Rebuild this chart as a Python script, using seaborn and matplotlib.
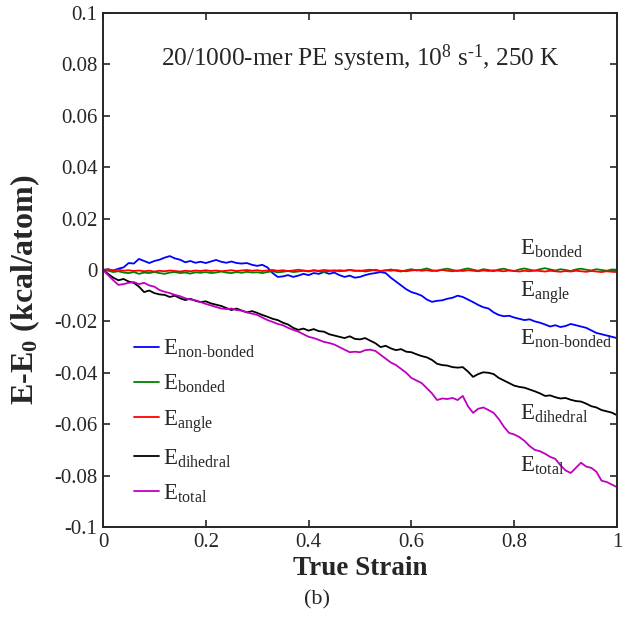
import numpy as np
import pandas as pd
import matplotlib
matplotlib.use("Agg")
import matplotlib.pyplot as plt
import seaborn as sns

# true strain, sampled every 0.01
strain = [round(i * 0.01, 2) for i in range(101)]

e_nonbonded = [
    0.0000, 0.0003, -0.0002, 0.0005, 0.0010, 0.0027, 0.0025, 0.0043, 0.0035, 0.0027,
    0.0035, 0.0040, 0.0048, 0.0054, 0.0045, 0.0040, 0.0030, 0.0035, 0.0028, 0.0032,
    0.0027, 0.0033, 0.0039, 0.0032, 0.0028, 0.0033, 0.0027, 0.0025, 0.0027, 0.0020,
    0.0016, 0.0020, 0.0010, -0.0012, -0.0027, -0.0025, -0.0020, -0.0027, -0.0022, -0.0015,
    -0.0020, -0.0012, -0.0015, -0.0008, -0.0015, -0.0010, -0.0020, -0.0027, -0.0022, -0.0030,
    -0.0027, -0.0020, -0.0015, -0.0012, -0.0008, -0.0012, -0.0030, -0.0045, -0.0060, -0.0075,
    -0.0086, -0.0092, -0.0100, -0.0115, -0.0124, -0.0120, -0.0118, -0.0112, -0.0108, -0.0100,
    -0.0105, -0.0115, -0.0125, -0.0136, -0.0145, -0.0150, -0.0165, -0.0175, -0.0180, -0.0178,
    -0.0185, -0.0190, -0.0195, -0.0192, -0.0200, -0.0205, -0.0212, -0.0220, -0.0215, -0.0222,
    -0.0218, -0.0210, -0.0215, -0.0220, -0.0225, -0.0235, -0.0245, -0.0250, -0.0255, -0.0260,
    -0.0265,
]

e_bonded = [
    0.0000, -0.0003, -0.0008, -0.0005, -0.0010, -0.0012, -0.0008, -0.0015, -0.0010, -0.0012,
    -0.0008, -0.0012, -0.0015, -0.0010, -0.0008, -0.0012, -0.0010, -0.0014, -0.0009, -0.0011,
    -0.0008, -0.0012, -0.0010, -0.0006, -0.0010, -0.0012, -0.0008, -0.0011, -0.0007, -0.0010,
    -0.0009, -0.0012, -0.0008, -0.0005, -0.0009, -0.0007, -0.0004, -0.0008, -0.0006, -0.0003,
    -0.0006, -0.0002, -0.0005, -0.0008, -0.0004, -0.0001, -0.0005, -0.0003, 0.0000, -0.0004,
    -0.0002, -0.0006, -0.0003, 0.0001, -0.0004, -0.0002, 0.0002, -0.0003, -0.0006, -0.0001,
    0.0003, -0.0002, 0.0001, 0.0006, -0.0001, -0.0004, 0.0002, 0.0005, 0.0000, -0.0004,
    0.0002, 0.0006, 0.0001, -0.0003, 0.0003, 0.0000, -0.0005, 0.0002, 0.0005, -0.0001,
    -0.0004, 0.0002, 0.0006, 0.0001, -0.0003, 0.0003, 0.0007, 0.0002, -0.0002, 0.0003,
    0.0000, -0.0004, 0.0002, 0.0005, 0.0001, -0.0002, 0.0003, 0.0000, -0.0003, 0.0002,
    0.0001,
]

e_angle = [
    0.0000, 0.0002, -0.0002, 0.0001, -0.0003, -0.0001, -0.0004, -0.0002, -0.0005, -0.0003,
    -0.0006, -0.0003, -0.0005, -0.0002, -0.0004, -0.0006, -0.0003, -0.0005, -0.0002, -0.0004,
    -0.0001, -0.0004, -0.0002, -0.0005, -0.0003, -0.0001, -0.0004, -0.0002, 0.0000, -0.0003,
    -0.0001, -0.0004, -0.0002, 0.0000, -0.0003, -0.0001, -0.0004, -0.0002, 0.0001, -0.0002,
    -0.0004, -0.0001, -0.0003, 0.0000, -0.0002, -0.0004, -0.0001, -0.0003, 0.0000, -0.0002,
    -0.0004, -0.0001, 0.0001, -0.0002, -0.0004, -0.0001, -0.0003, 0.0000, -0.0003, -0.0005,
    -0.0002, 0.0000, -0.0003, -0.0001, -0.0004, -0.0002, 0.0000, -0.0003, -0.0005, -0.0002,
    -0.0004, -0.0001, -0.0003, -0.0005, -0.0002, -0.0004, -0.0001, -0.0003, -0.0005, -0.0002,
    -0.0004, -0.0006, -0.0003, -0.0005, -0.0002, -0.0004, -0.0006, -0.0003, -0.0005, -0.0007,
    -0.0004, -0.0006, -0.0003, -0.0005, -0.0007, -0.0004, -0.0006, -0.0008, -0.0005, -0.0007,
    -0.0008,
]

e_dihedral = [
    0.0000, -0.0015, -0.0030, -0.0040, -0.0035, -0.0045, -0.0050, -0.0065, -0.0086, -0.0080,
    -0.0090, -0.0095, -0.0097, -0.0105, -0.0100, -0.0110, -0.0117, -0.0112, -0.0120, -0.0125,
    -0.0122, -0.0130, -0.0135, -0.0140, -0.0148, -0.0156, -0.0150, -0.0158, -0.0165, -0.0160,
    -0.0167, -0.0175, -0.0182, -0.0190, -0.0195, -0.0205, -0.0212, -0.0225, -0.0233, -0.0228,
    -0.0236, -0.0230, -0.0238, -0.0240, -0.0250, -0.0255, -0.0260, -0.0265, -0.0258, -0.0268,
    -0.0270, -0.0265, -0.0275, -0.0285, -0.0300, -0.0295, -0.0305, -0.0312, -0.0308, -0.0318,
    -0.0320, -0.0328, -0.0335, -0.0340, -0.0350, -0.0365, -0.0370, -0.0372, -0.0378, -0.0380,
    -0.0378, -0.0395, -0.0416, -0.0405, -0.0398, -0.0400, -0.0405, -0.0420, -0.0430, -0.0440,
    -0.0450, -0.0455, -0.0458, -0.0465, -0.0472, -0.0480, -0.0490, -0.0488, -0.0495, -0.0500,
    -0.0498, -0.0505, -0.0510, -0.0512, -0.0520, -0.0530, -0.0535, -0.0545, -0.0550, -0.0555,
    -0.0565,
]

e_total = [
    0.0000, -0.0020, -0.0040, -0.0058, -0.0055, -0.0050, -0.0047, -0.0055, -0.0050, -0.0060,
    -0.0065, -0.0078, -0.0085, -0.0090, -0.0097, -0.0102, -0.0110, -0.0115, -0.0118, -0.0125,
    -0.0132, -0.0138, -0.0144, -0.0150, -0.0152, -0.0150, -0.0156, -0.0158, -0.0165, -0.0170,
    -0.0175, -0.0185, -0.0195, -0.0202, -0.0210, -0.0215, -0.0225, -0.0233, -0.0240, -0.0250,
    -0.0260, -0.0265, -0.0272, -0.0280, -0.0284, -0.0290, -0.0300, -0.0310, -0.0320, -0.0318,
    -0.0320, -0.0312, -0.0310, -0.0315, -0.0330, -0.0345, -0.0360, -0.0370, -0.0385, -0.0400,
    -0.0420, -0.0430, -0.0440, -0.0460, -0.0480, -0.0506, -0.0500, -0.0502, -0.0498, -0.0506,
    -0.0490, -0.0530, -0.0556, -0.0540, -0.0535, -0.0545, -0.0556, -0.0580, -0.0610, -0.0634,
    -0.0640, -0.0650, -0.0665, -0.0685, -0.0700, -0.0705, -0.0715, -0.0727, -0.0735, -0.0760,
    -0.0780, -0.0790, -0.0770, -0.0750, -0.0765, -0.0770, -0.0785, -0.0820, -0.0825, -0.0835,
    -0.0845,
]

series_names = ["non-bonded", "bonded", "angle", "dihedral", "total"]
series_colors = ["#0000FF", "#008000", "#FF0000", "#000000", "#BF00BF"]
x_ticks = [0, 0.2, 0.4, 0.6, 0.8, 1]
x_tick_labels = ["0", "0.2", "0.4", "0.6", "0.8", "1"]
y_ticks = [-0.1, -0.08, -0.06, -0.04, -0.02, 0, 0.02, 0.04, 0.06, 0.08, 0.1]
y_tick_labels = ["-0.1", "-0.08", "-0.06", "-0.04", "-0.02", "0",
                 "0.02", "0.04", "0.06", "0.08", "0.1"]
# where each curve label sits (strain, energy)
label_pos = {
    "bonded": (0.811, 0.0058),
    "angle": (0.811, -0.0105),
    "non-bonded": (0.811, -0.0290),
    "dihedral": (0.811, -0.0584),
    "total": (0.811, -0.0786),
}

df = pd.DataFrame({
    "strain": strain,
    "non-bonded": e_nonbonded,
    "bonded": e_bonded,
    "angle": e_angle,
    "dihedral": e_dihedral,
    "total": e_total,
})
long_df = df.melt(id_vars="strain", var_name="term", value_name="energy")

sns.set_style("ticks")
plt.rcParams["font.family"] = ["Liberation Serif", "DejaVu Serif"]
plt.rcParams["mathtext.fontset"] = "custom"
plt.rcParams["mathtext.rm"] = "Liberation Serif"
plt.rcParams["mathtext.it"] = "Liberation Serif:italic"
plt.rcParams["mathtext.bf"] = "Liberation Serif:bold"


def e_label(name):
    return r"E$_{\mathrm{" + name.replace("-", r"\text{-}") + "}}$"


fig = plt.figure(figsize=(6.26, 6.21), dpi=100)
ax = fig.add_axes([0.1645, 0.1514, 0.8211, 0.8277])

sns.lineplot(data=long_df, x="strain", y="energy", hue="term",
             hue_order=series_names, palette=series_colors,
             linewidth=1.3, ax=ax, legend=False)

ax.set_xlim(0, 1)
ax.set_ylim(-0.1, 0.1)
ax.set_xticks(x_ticks)
ax.set_xticklabels(x_tick_labels)
ax.set_yticks(y_ticks)
ax.set_yticklabels(y_tick_labels)
ax.tick_params(direction="in", length=5, width=1.2, labelsize=15,
               top=True, right=True, pad=4)
for sp in ax.spines.values():
    sp.set_linewidth(1.4)
    sp.set_visible(True)

ax.set_xlabel("True Strain", fontsize=19.5, fontweight="bold", labelpad=3.5)
ax.set_ylabel(r"E-E$_\mathbf{0}$ (kcal/atom)", fontsize=23, fontweight="bold")
ax.yaxis.set_label_coords(-0.118, 0.461)

ax.text(0.5, 0.912, r"20/1000-mer PE system, 10$^{8}$ s$^{\text{-}1}$, 250 K",
        transform=ax.transAxes, ha="center", va="center", fontsize=18.2)

for name in series_names:
    xp, yp = label_pos[name]
    ax.text(xp, yp, e_label(name), fontsize=16.5, ha="left", va="baseline")

handles = ax.get_lines()[:5]
ax.legend(handles, [e_label(n) for n in series_names], loc="lower left",
          bbox_to_anchor=(0.029, 0.0125), frameon=False, fontsize=16.5,
          handlelength=1.1, handletextpad=0.17, labelspacing=0.55,
          borderaxespad=0.3)

fig.text(317 / 626, 1 - 600 / 621, "(b)", ha="center", va="center", fontsize=16)

fig.savefig("out.png", dpi=100)
